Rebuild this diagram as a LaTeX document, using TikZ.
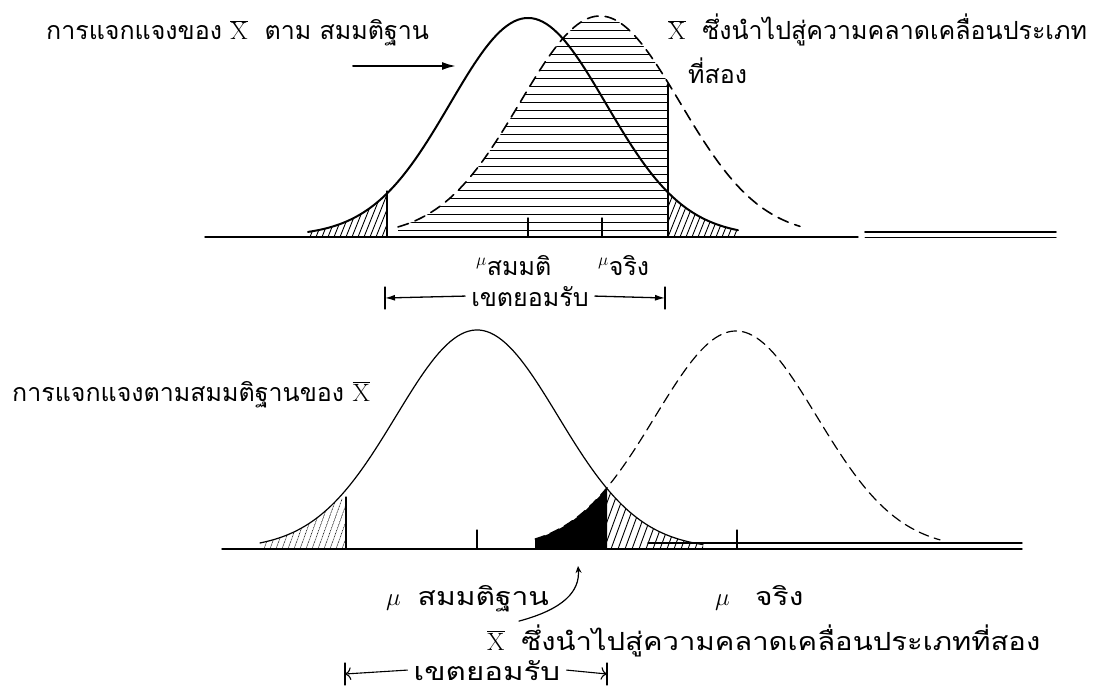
\documentclass[tikz,border=0pt]{standalone}
\usepackage{graphicx}
\usepackage{fontspec}
\newfontfamily\thaifont[Script=Thai]{Loma}
\usetikzlibrary{arrows.meta}

\newcommand{\widetext}[2][1.2]{\scalebox{#1}[1]{#2}}
\newcommand{\xbar}{\(\overline{\mathrm{X}}\)}

\tikzset{
  declare function={gs(\x,\m,\s)=exp(-0.5*((\x-\m)/\s)^2);},
  thaitext/.style={font=\thaifont\fontsize{25}{30}\selectfont, inner sep=0pt},
  nullcurve/.style={line width=2pt},
  truecurve/.style={line width=1.6pt, dash pattern=on 11pt off 7pt},
  hatchline/.style={line width=0.9pt},
  axisline/.style={line width=1.4pt},
}

\begin{document}
\begin{tikzpicture}[x=1pt, y=-1pt, line cap=round]
  \useasboundingbox (0,0) rectangle (1093,690);

  % 上段: 横線のハッチング (真の分布の採択域)
  \begin{scope}
    \clip plot[domain=398:668, samples=60] (\x, {236-220*gs(\x,600,80)}) -- (668,237) -- (398,237) -- cycle;
    \foreach \y in {22,30,...,230}
      \draw[hatchline] (395,\y) -- (668,\y);
  \end{scope}

  % 上段: 両すその斜線
  \begin{scope}
    \clip plot[domain=308:387, samples=40] (\x, {236-218*gs(\x,528,78)}) -- (387,237) -- (308,237) -- cycle;
    \foreach \i in {280,286,...,390}
      \draw[hatchline] (\i,237) -- ++(22,-55);
  \end{scope}
  \begin{scope}
    \clip plot[domain=668:738, samples=40] (\x, {236-218*gs(\x,528,78)}) -- (738,237) -- (668,237) -- cycle;
    \foreach \i in {650,656,...,740}
      \draw[hatchline] (\i,237) -- ++(22,-55);
  \end{scope}

  % 上段: 分布曲線
  \draw[nullcurve] plot[domain=308:738, samples=120] (\x, {236-218*gs(\x,528,78)});
  \draw[truecurve] plot[domain=398:800, samples=120] (\x, {236-220*gs(\x,600,80)});

  % 上段: 軸と目盛
  \draw[axisline] (205,237) -- (858,237);
  \draw[line width=1.8pt] (865,232) -- (1056,232);
  \draw[line width=1pt] (865,237) -- (1056,237);
  \draw[line width=1.3pt] (387,237) -- (387,191);
  \draw[line width=1.3pt, -{Stealth[length=5pt, width=4pt]}] (668,237) -- (668,82);
  \draw[line width=1.5pt] (528,237) -- (528,218);
  \draw[line width=1.5pt] (602,237) -- (602,218);

  % 上段: ラベル
  \node[thaitext, anchor=base west] (nullA) at (46,40) {การแจกแจงของ \xbar~~ตาม สมมติฐาน};
  \coordinate (arrS) at (353,66);
  \coordinate (arrE) at (456,66);
  \draw[line width=2pt, -{Latex[length=14pt, width=8pt]}] (arrS) -- (arrE);
  \node[thaitext, anchor=base west] (errA) at (668,40) {\xbar~~ซึ่งนำไปสู่ความคลาดเคลื่อนประเภท};
  \node[thaitext, anchor=base west] (errA2) at (688,84) {ที่สอง};
  \node[thaitext, anchor=base west] (muHA) at (476,275) {\(^{\mu}\)สมมติ};
  \node[thaitext, anchor=base west] (muTA) at (598,275) {\(^{\mu}\)จริง};

  % 上段: 採択域
  \node[thaitext, anchor=base] (accA) at (530,306) {เขตยอมรับ};
  \coordinate (accAL) at (385,298);
  \coordinate (accAR) at (665,298);
  \draw[line width=1.3pt, -{Latex[length=10pt, width=6pt]}] ([xshift=-6pt]accA.west) -- (accAL);
  \draw[line width=1.3pt, -{Latex[length=10pt, width=6pt]}] ([xshift=6pt]accA.east) -- (accAR);
  \draw[line width=1.3pt] ([yshift=11pt]accAL) -- ([yshift=-11pt]accAL);
  \draw[line width=1.3pt] ([yshift=11pt]accAR) -- ([yshift=-11pt]accAR);

  % 下段: 塗りつぶしと斜線
  \fill plot[domain=535:607, samples=40] (\x, {549-218*gs(\x,736,81)}) -- (607,549) -- (535,549) -- cycle;
  \begin{scope}
    \clip plot[domain=607:703, samples=40] (\x, {549-219*gs(\x,477,81)}) -- (703,549) -- (607,549) -- cycle;
    \foreach \i in {590,597,...,710}
      \draw[hatchline] (\i,549) -- ++(22,-60);
  \end{scope}
  \begin{scope}
    \clip plot[domain=260:346, samples=40] (\x, {549-219*gs(\x,477,81)}) -- (346,549) -- (260,549) -- cycle;
    \foreach \i in {240,246,...,350}
      \draw[line width=0.6pt, densely dotted] (\i,549) -- ++(18,-50);
  \end{scope}

  % 下段: 分布曲線
  \draw[line width=1.2pt] plot[domain=260:703, samples=120] (\x, {549-219*gs(\x,477,81)});
  \draw[line width=1.2pt, dash pattern=on 10pt off 6pt] plot[domain=535:940, samples=120] (\x, {549-218*gs(\x,736,81)});

  % 下段: 軸と目盛
  \draw[axisline] (222,549) -- (1022,549);
  \draw[axisline] (648,543) -- (1022,543);
  \draw[line width=1.2pt] (346,549) -- (346,497);
  \draw[line width=1.3pt] (477,549) -- (477,530);
  \draw[line width=1.3pt] (737,549) -- (737,530);

  % 下段: ラベル
  \node[thaitext, anchor=base west] (nullB) at (12,401) {การแจกแจงตามสมมติฐานของ \xbar};
  \node[thaitext, anchor=base west] (muHB) at (386,605) {\(\mu\)~~\widetext{สมมติฐาน}};
  \node[thaitext, anchor=base west] (muTB) at (715,605) {\(\mu\)~~~\widetext{จริง}};
  \node[thaitext, anchor=base west] (errB) at (487,650) {\xbar~~\widetext[1.17]{ซึ่งนำไปสู่ความคลาดเคลื่อนประเภทที่สอง}};
  \coordinate (errTip) at (578,566);
  \draw[line width=1.2pt, -{Stealth[length=7pt, width=6pt]}] ([xshift=32pt, yshift=3pt]errB.north west) .. controls +(45,-12) and +(2,25) .. (errTip);

  % 下段: 採択域
  \node[thaitext, anchor=base] (accB) at (487,680) {\widetext[1.25]{เขตยอมรับ}};
  \coordinate (accBL) at (345,674);
  \coordinate (accBR) at (607,674);
  \draw[line width=1.1pt, -{To[length=6pt]}] ([xshift=-6pt]accB.west) -- (accBL);
  \draw[line width=1.1pt, -{To[length=6pt]}] ([xshift=6pt]accB.east) -- (accBR);
  \draw[line width=1.1pt] ([yshift=11pt]accBL) -- ([yshift=-11pt]accBL);
  \draw[line width=1.1pt] ([yshift=11pt]accBR) -- ([yshift=-11pt]accBR);
\end{tikzpicture}
\end{document}
